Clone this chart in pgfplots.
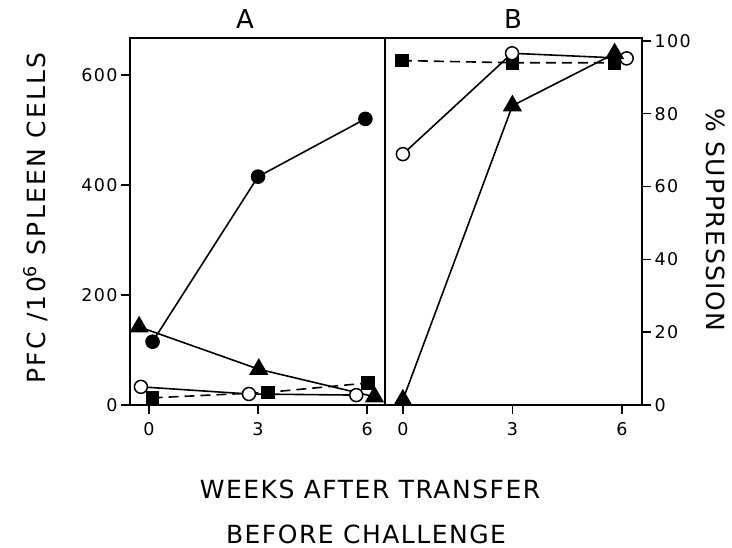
\documentclass[border=0pt]{standalone}
\usepackage{pgfplots}
\pgfplotsset{compat=1.18}
\usepackage{fontspec}
\setmainfont{DejaVu Sans}
\newfontfamily\labfont[LetterSpace=6]{DejaVu Sans}
\newfontfamily\ylabfont[LetterSpace=9]{DejaVu Sans}
\newfontfamily\tickfont[LetterSpace=8]{DejaVu Sans}
\begin{document}
\begin{tikzpicture}
\useasboundingbox (0pt,0pt) rectangle (732pt,548pt);
\pgfplotsset{
 panel/.style={
  scale only axis, height=367pt,
  axis line style={line width=1.8pt},
  tick style={line width=1.5pt, black},
  major tick length=9pt,
  tick align=outside,
  xtick={0,3,6}, xtick pos=bottom,
  clip=false,
  /pgf/number format/assume math mode=true,
  tick label style={font=\tickfont\fontsize{17.5}{20}\selectfont},
  xticklabel style={yshift=-5pt},
  every axis plot/.append style={line width=1.6pt, black},
 },
 fc/.style={mark=*, mark size=6.5pt, mark options={solid, fill=black}},
 oc/.style={mark=*, mark size=6.5pt, mark options={solid, fill=white, line width=1.5pt}},
 tri/.style={mark=triangle*, mark size=9.5pt, mark options={solid, fill=black}},
 sq/.style={mark=square*, mark size=6pt, mark options={solid, fill=black}, dash pattern=on 10pt off 6pt},
}
% Panel A
\begin{axis}[panel, at={(130pt,143pt)}, anchor=south west, width=255pt,
  xmin=-0.52, xmax=6.49, ymin=0, ymax=667,
  ytick={0,200,400,600}, ytick pos=left]
\addplot[fc] coordinates {(0.1,115) (3,415) (5.95,520)};
\addplot[tri] coordinates {(-0.27,142) (3.02,65) (6.2,15)};
\addplot[oc] coordinates {(-0.22,33) (2.75,20) (5.7,18)};
\addplot[sq] coordinates {(0.1,13) (3.27,23) (6.02,40)};
\end{axis}
% Panel B
\begin{axis}[panel, at={(385pt,143pt)}, anchor=south west, width=257pt,
  xmin=-0.49, xmax=6.55, ymin=0, ymax=100.8,
  ytick={0,20,40,60,80,100}, ytick pos=right, yticklabel pos=right]
\addplot[sq] coordinates {(-0.03,94.6) (3,94) (5.8,94)};
\addplot[oc] coordinates {(0,68.9) (2.99,96.6) (6.13,95.2)};
\addplot[tri] coordinates {(0,1.4) (3,82.2) (5.8,96.5)};
\end{axis}
% Labels
\node[font=\fontsize{26}{30}\selectfont] at (245pt,529pt) {A};
\node[font=\fontsize{26}{30}\selectfont] at (513pt,529pt) {B};
\node[font=\ylabfont\fontsize{25}{30}\selectfont, rotate=90] at (36pt,330pt) {PFC /10\textsuperscript{6} SPLEEN CELLS};
\node[font=\labfont\fontsize{25}{30}\selectfont, rotate=-90] at (716pt,328pt) {\% SUPPRESSION};
\node[font=\labfont\fontsize{25}{30}\selectfont] at (370pt,59pt) {WEEKS AFTER TRANSFER};
\node[font=\labfont\fontsize{25}{30}\selectfont] at (366pt,14pt) {BEFORE CHALLENGE};
\end{tikzpicture}
\end{document}
